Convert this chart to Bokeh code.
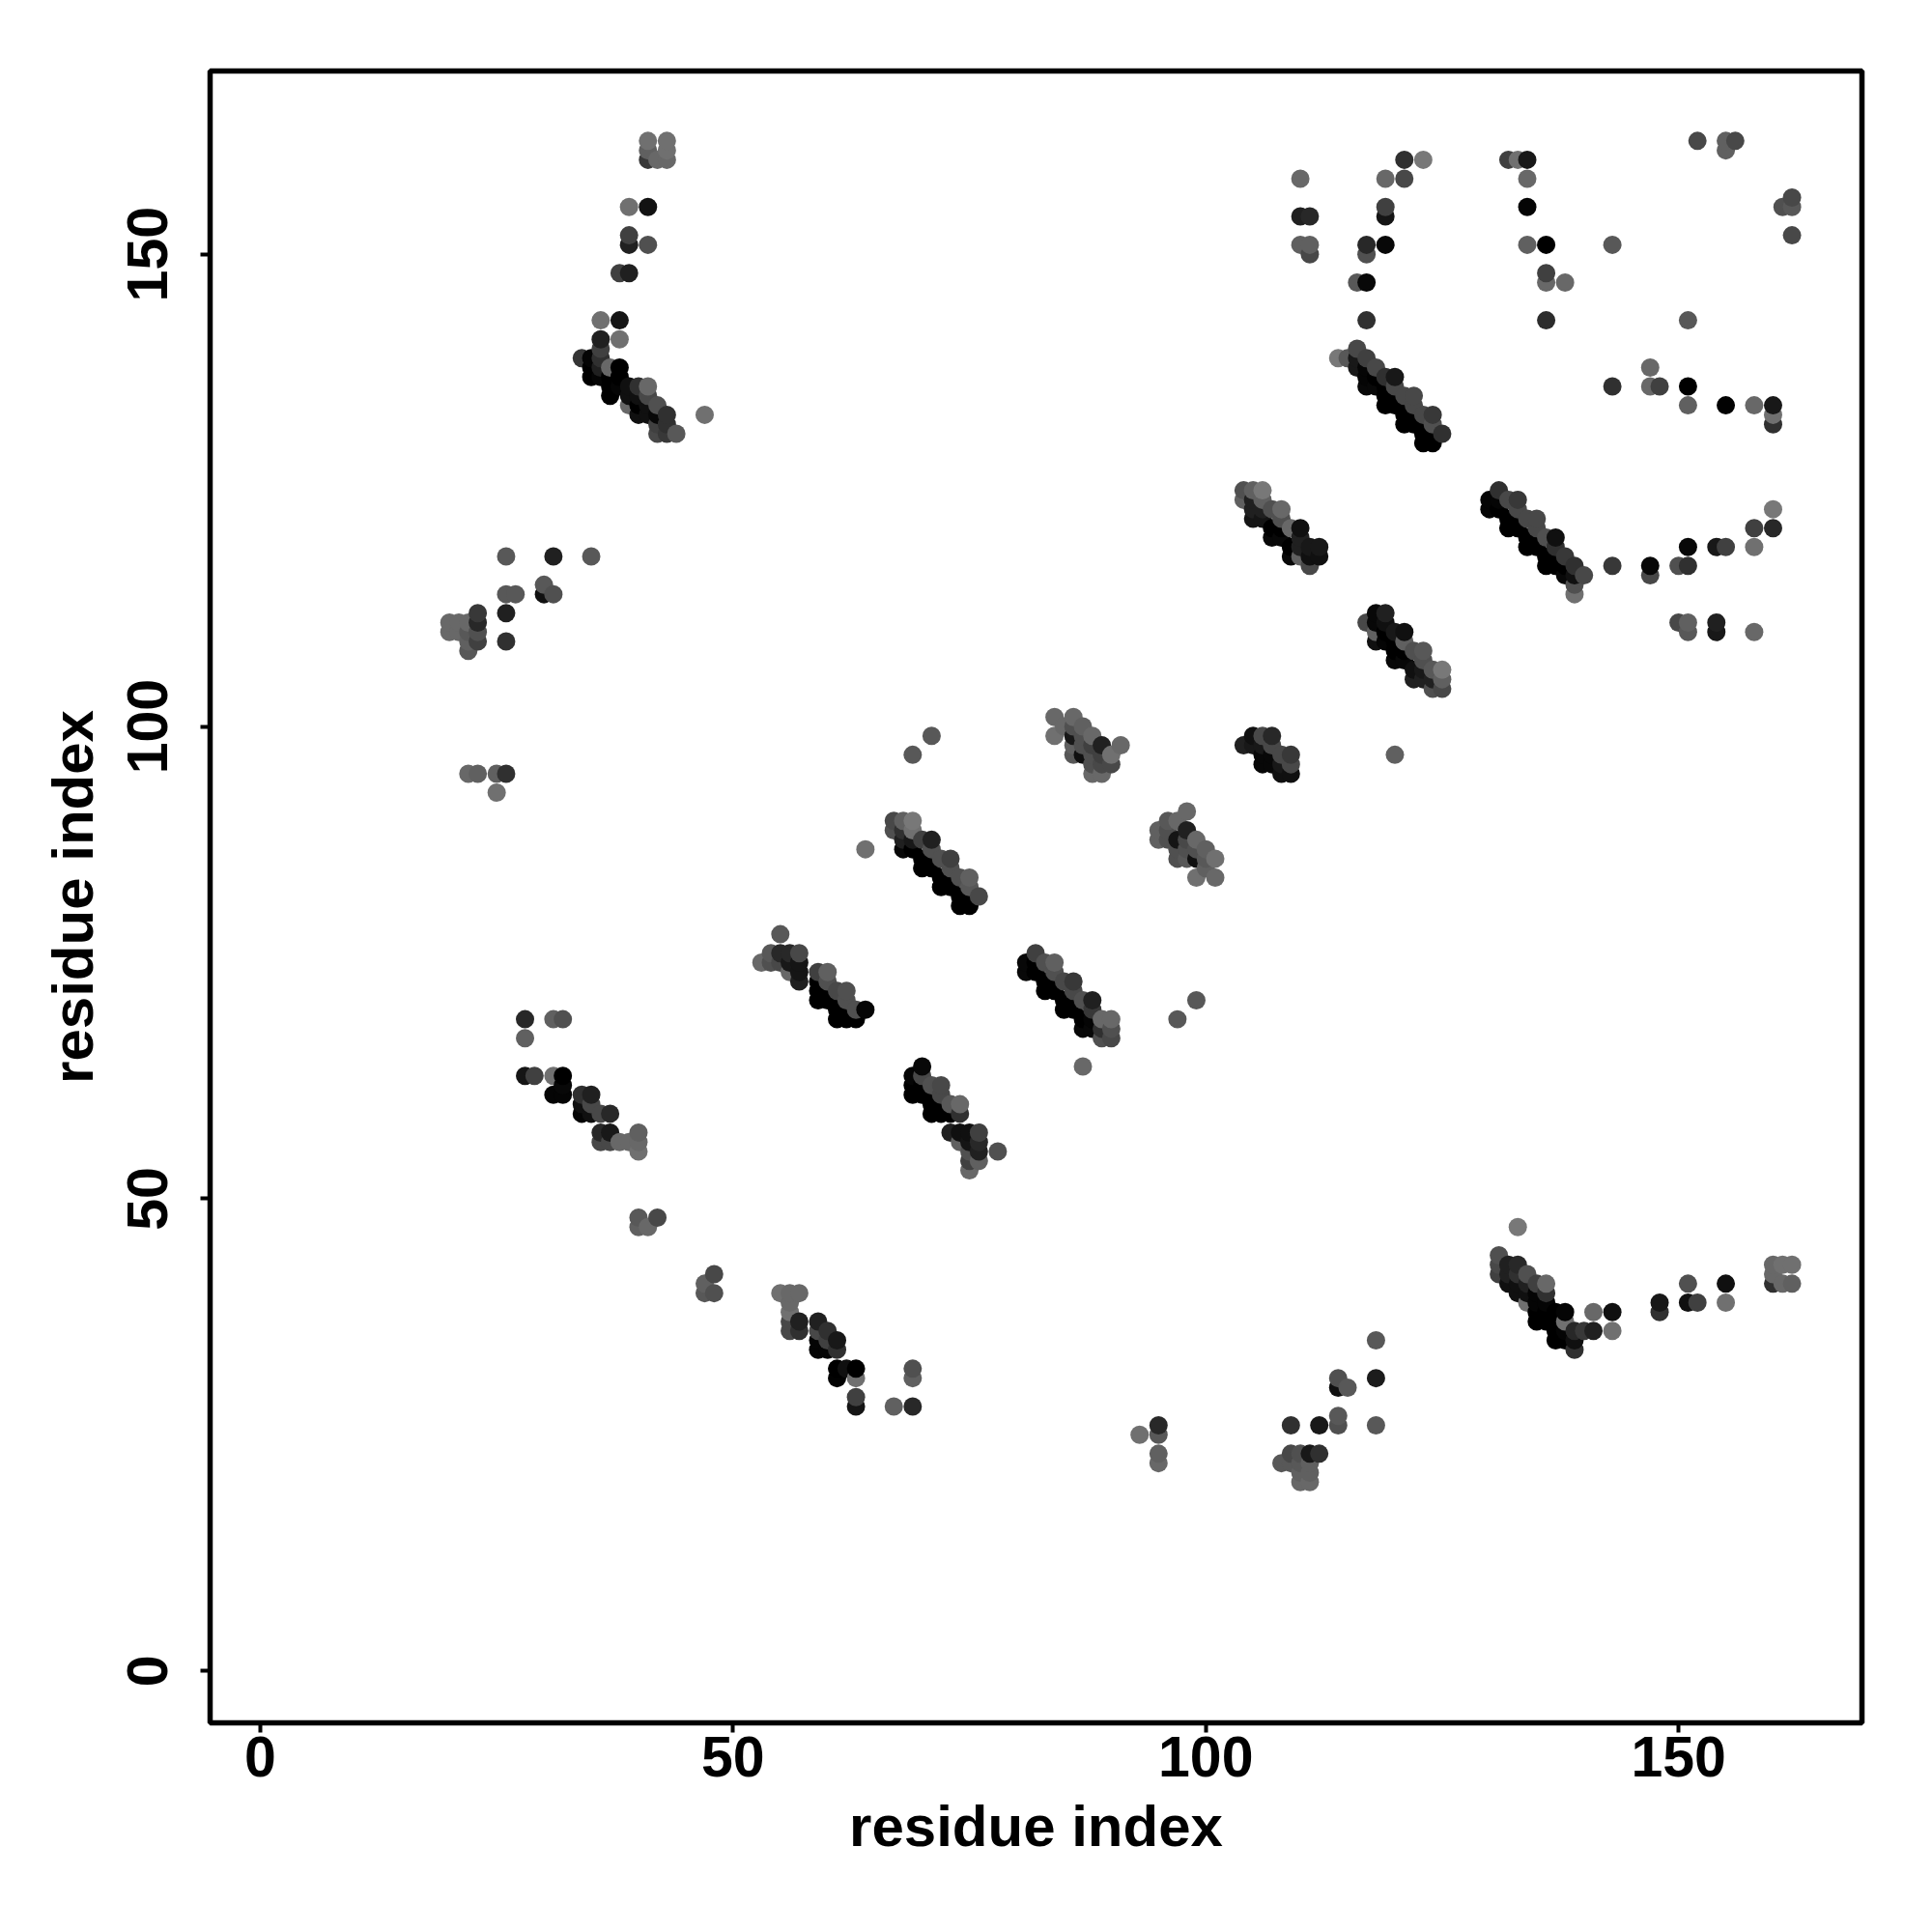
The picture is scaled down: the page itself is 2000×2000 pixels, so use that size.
from bokeh.plotting import figure
from bokeh.models import ColumnDataSource, FixedTicker, Range1d
from bokeh.embed import file_html
from bokeh.resources import INLINE

# contact lists: (residue i, residue j, darkness level 0=black .. 120=light)
arm_top_left = [(41,162,0x70),(43,162,0x70),(41,161,0x60),(43,161,0x70),(41,160,0x38),(42,160,0x68),(43,160,0x68),
 (39,155,0x70),(41,155,0x12),(39,152,0x40),(39,151,0x20),(41,151,0x50),(38,148,0x40),(39,148,0x20),
 (36,143,0x70),(38,143,0x15),(36,141,0x20),(38,141,0x70),(36,140,0x40)]
strip_34_44 = [(34,139,0x35),(35,139,0x05),(35,138,0x00),(35,137,0x00),(36,139,0x30),(36,138,0x20),(36,137,0x05),
 (37,138,0x68),(37,137,0x00),(37,136,0x00),(37,135,0x00),(38,138,0x00),(38,137,0x00),(38,136,0x05),
 (39,136,0x10),(39,135,0x10),(39,134,0x68),(40,136,0x30),(40,135,0x10),(40,134,0x00),(40,133,0x10),
 (41,136,0x68),(41,135,0x48),(41,134,0x10),(41,133,0x10),(42,134,0x50),(42,133,0x08),(42,132,0x40),(42,131,0x48),
 (43,133,0x30),(43,132,0x30),(43,131,0x38),(44,131,0x58),(47,133,0x70)]
arm_top_right = [(123,160,0x78),(121,160,0x30),(119,158,0x68),(121,158,0x48),(110,158,0x68),(132,160,0x40),(133,160,0x70),
 (134,160,0x18),(134,158,0x68),(134,155,0x05),(119,155,0x40),(119,154,0x15),(110,154,0x20),(111,154,0x28),
 (110,151,0x60),(111,151,0x60),(111,150,0x48),(117,151,0x28),(117,150,0x50),(119,151,0x08),(134,151,0x60),
 (136,151,0x00),(143,151,0x58),(136,148,0x40),(136,147,0x68),(138,147,0x68),(116,147,0x58),(117,147,0x08),
 (117,143,0x30),(136,143,0x2c),(143,136,0x30)]
strip_114_125 = [(114,139,0x78),(115,139,0x58),(116,140,0x48),(116,139,0x18),(116,138,0x18),(117,139,0x40),(117,138,0x05),(117,137,0x05),(117,136,0x08),
 (118,138,0x48),(118,137,0x00),(118,136,0x08),(119,137,0x30),(119,136,0x00),(119,135,0x00),(119,134,0x00),
 (120,137,0x18),(120,136,0x48),(120,135,0x00),(120,134,0x00),(121,135,0x48),(121,134,0x00),(121,133,0x00),(121,132,0x00),
 (122,135,0x48),(122,134,0x48),(122,133,0x00),(122,132,0x00),(123,133,0x48),(123,132,0x00),(123,131,0x00),(123,130,0x00),
 (124,133,0x38),(124,132,0x50),(124,131,0x00),(124,130,0x00),(125,131,0x30)]
far_top_right = [(152,162,0x48),(155,162,0x60),(156,162,0x48),(155,161,0x60),(162,156,0x48),(161,155,0x50),(162,155,0x58),
 (162,152,0x48),(151,143,0x58),(147,138,0x68),(147,136,0x68),(148,136,0x40),(151,136,0x00),(151,134,0x60),
 (155,134,0x02),(158,134,0x68),(160,134,0x18),(160,133,0x70),(160,132,0x30)]
block_104_112 = [(104,125,0x50),(105,125,0x60),(106,125,0x78),(104,124,0x60),(105,124,0x20),(105,123,0x20),(105,122,0x15),
 (106,124,0x60),(106,123,0x20),(106,122,0x15),(107,123,0x50),(107,121,0x00),(107,120,0x08),(108,123,0x68),(108,122,0x50),
 (108,121,0x00),(108,120,0x08),(109,121,0x68),(109,119,0x00),(109,118,0x08),(110,121,0x10),(110,120,0x20),(110,119,0x20),
 (110,118,0x60),(111,119,0x18),(111,118,0x10),(111,117,0x48),(112,119,0x18),(112,118,0x10)]
block_117_125 = [(117,111,0x48),(118,112,0x08),(118,111,0x08),(118,110,0x60),(118,109,0x10),(119,112,0x20),(119,111,0x10),(119,110,0x00),(119,109,0x05),
 (120,110,0x18),(120,109,0x00),(120,108,0x00),(120,107,0x08),(121,110,0x10),(121,109,0x60),(121,108,0x00),(121,107,0x08),
 (122,108,0x50),(122,106,0x10),(122,105,0x20),(123,108,0x58),(123,107,0x50),(123,106,0x18),(123,105,0x20),
 (124,106,0x58),(124,105,0x20),(124,104,0x50),(125,106,0x78),(125,105,0x60),(125,104,0x48),(120,97,0x60)]
block_104_109 = [(104,98,0x20),(105,99,0x10),(105,98,0x18),(106,99,0x48),(106,98,0x18),(106,97,0x08),(106,96,0x08),
 (107,99,0x28),(107,98,0x48),(107,97,0x08),(107,96,0x08),(108,97,0x48),(108,96,0x18),(108,95,0x10),(109,97,0x38),(109,96,0x48),(109,95,0x10)]
strip_130_140 = [(130,124,0x05),(130,123,0x05),(131,125,0x30),(131,124,0x05),(131,123,0x00),(132,124,0x48),(132,122,0x00),(132,121,0x00),
 (133,124,0x38),(133,123,0x48),(133,122,0x00),(133,121,0x00),(134,122,0x48),(134,120,0x00),(134,119,0x00),
 (135,122,0x48),(135,121,0x48),(135,120,0x00),(135,119,0x00),(136,120,0x50),(136,118,0x00),(136,117,0x00),
 (137,120,0x10),(137,119,0x30),(137,118,0x00),(137,117,0x00),(138,118,0x38),(138,117,0x00),(138,116,0x08),
 (139,117,0x30),(139,116,0x10),(139,115,0x50),(139,114,0x70),(140,116,0x48)]
tail_143_160 = [(143,117,0x38),(147,117,0x08),(147,116,0x48),(150,117,0x50),(151,117,0x30),(151,119,0x08),(154,119,0x18),(155,119,0x40),
 (158,119,0x70),(158,121,0x40),(160,121,0x28),(160,123,0x78),(150,111,0x48),(151,111,0x60),(151,110,0x58),
 (154,111,0x20),(154,110,0x18),(158,110,0x68)]
left_group = [(26,118,0x58),(31,118,0x20),(35,118,0x58),(26,114,0x58),(27,114,0x58),(30,115,0x58),(30,114,0x10),(31,114,0x50),
 (26,112,0x20),(23,112,0x38),(23,111,0x28),(23,110,0x50),(23,109,0x40),(26,109,0x30),(20,111,0x68),(21,111,0x68),
 (22,111,0x68),(20,110,0x68),(21,110,0x68),(22,110,0x58),(22,109,0x60),(22,108,0x58),(22,95,0x68),(23,95,0x60),
 (25,95,0x60),(26,95,0x30),(25,93,0x70)]
strip_67_76 = [(71,99,0x58),(69,97,0x58),(64,87,0x70),(67,90,0x48),(68,90,0x60),(69,90,0x78),(67,89,0x50),(69,89,0x70),(68,89,0x30),
 (68,88,0x20),(68,87,0x08),(69,88,0x18),(69,87,0x00),(70,88,0x40),(70,86,0x00),(70,85,0x00),(71,88,0x20),(71,87,0x50),(71,86,0x00),(71,85,0x00),
 (72,86,0x50),(72,84,0x00),(72,83,0x00),(73,86,0x40),(73,85,0x50),(73,84,0x00),(73,83,0x00),(74,84,0x50),(74,82,0x00),(74,81,0x00),
 (75,84,0x60),(75,83,0x58),(75,82,0x00),(75,81,0x00),(76,82,0x48)]
block_84_91 = [(84,101,0x68),(84,99,0x70),(85,100,0x68),(86,101,0x68),(86,100,0x50),(86,99,0x18),(86,98,0x60),(86,97,0x58),
 (87,100,0x60),(87,99,0x50),(87,98,0x50),(87,97,0x10),(88,99,0x68),(88,98,0x40),(88,97,0x50),(88,96,0x50),(88,95,0x68),
 (89,98,0x20),(89,97,0x40),(89,96,0x48),(89,95,0x68),(90,97,0x70),(90,96,0x48),(91,98,0x68)]
strip_81_90 = [(82,76,0x40),(81,75,0x08),(81,74,0x08),(82,75,0x00),(82,74,0x00),(83,75,0x50),(83,73,0x00),(83,72,0x00),
 (84,75,0x60),(84,74,0x50),(84,73,0x00),(84,72,0x00),(85,73,0x48),(85,71,0x00),(85,70,0x00),(86,73,0x38),(86,72,0x48),(86,71,0x00),(86,70,0x00),
 (87,71,0x50),(87,69,0x00),(87,68,0x08),(88,71,0x20),(88,70,0x38),(88,69,0x05),(88,68,0x08),(89,69,0x68),(89,68,0x30),(89,67,0x50),
 (90,69,0x68),(90,68,0x50),(90,67,0x48),(87,64,0x68),(99,71,0x58),(97,69,0x58)]
block_95_101 = [(98,91,0x68),(96,90,0x58),(97,90,0x68),(95,89,0x60),(95,88,0x60),(96,89,0x50),(96,88,0x50),(98,89,0x20),
 (99,88,0x68),(97,88,0x15),(98,88,0x48),(100,87,0x60),(99,87,0x50),(101,86,0x70),(100,86,0x58),(97,86,0x50),
 (98,86,0x58),(99,86,0x10),(99,84,0x70),(101,84,0x68),(97,87,0x50),(98,87,0x50),(100,85,0x60)]
strip_53_64 = [(55,78,0x58),(53,75,0x68),(54,76,0x58),(55,76,0x28),(56,76,0x28),(57,76,0x48),(54,75,0x50),(55,75,0x48),
 (56,75,0x18),(57,75,0x15),(57,74,0x15),(57,73,0x20),(56,74,0x68),(59,74,0x40),(60,74,0x60),(60,73,0x50),
 (61,72,0x48),(62,72,0x50),(62,71,0x50),(63,70,0x50),(64,70,0x05),(59,73,0x00),(59,72,0x00),(59,71,0x00),
 (60,72,0x00),(60,71,0x00),(61,71,0x00),(61,70,0x00),(61,69,0x00),(62,70,0x00),(62,69,0x00),(63,69,0x00)]
strip_69_78 = [(70,64,0x08),(69,63,0x05),(69,62,0x00),(69,61,0x00),(70,63,0x48),(70,62,0x00),(70,61,0x00),(71,62,0x50),(71,61,0x00),(71,60,0x00),(71,59,0x00),
 (72,62,0x48),(72,61,0x48),(72,60,0x00),(72,59,0x00),(73,60,0x58),(73,59,0x00),(74,60,0x68),(74,59,0x30),
 (73,57,0x20),(74,57,0x10),(75,57,0x10),(76,57,0x40),(74,56,0x60),(75,56,0x15),(76,56,0x28),(76,55,0x20),
 (75,55,0x50),(75,54,0x40),(76,54,0x60),(75,53,0x68),(78,55,0x50)]
lower_left = [(28,69,0x28),(31,69,0x60),(32,69,0x50),(28,67,0x60),(28,63,0x15),(29,63,0x40),(31,63,0x70),(32,63,0x00),
 (32,62,0x08),(31,61,0x05),(32,61,0x05),(34,61,0x30),(35,61,0x20),(34,60,0x10),(35,60,0x48),(34,59,0x05),
 (35,59,0x10),(36,59,0x48),(37,59,0x28),(36,57,0x28),(37,57,0x18),(36,56,0x48),(37,56,0x48),(38,56,0x68),
 (39,56,0x68),(40,57,0x60),(40,56,0x68),(40,55,0x70),(40,48,0x58),(42,48,0x48),(40,47,0x60),(41,47,0x68),
 (48,42,0x48),(47,41,0x60),(47,40,0x58),(48,40,0x50)]
lower_mid = [(55,40,0x70),(56,40,0x68),(57,40,0x68),(56,39,0x68),(56,38,0x70),(56,37,0x48),(57,37,0x20),(56,36,0x48),
 (57,36,0x30),(59,37,0x20),(59,36,0x48),(60,35,0x40),(61,35,0x18),(61,34,0x30),(59,34,0x05),(60,34,0x05),(60,36,0x30),
 (59,35,0x05),(61,32,0x00),(62,32,0x10),(63,32,0x00),(61,31,0x02),(63,31,0x70),(63,29,0x40),(63,28,0x15),
 (67,28,0x60),(69,28,0x28),(69,32,0x50),(69,31,0x60)]
bottom_group = [(118,35,0x58),(118,31,0x1c),(114,31,0x50),(115,30,0x58),(114,30,0x10),(114,27,0x58),(114,26,0x50),(118,26,0x58),
 (112,26,0x18),(109,26,0x30),(95,26,0x28),(95,25,0x58),(93,25,0x70),(95,23,0x60),(95,22,0x68),(108,22,0x58),
 (109,23,0x48),(110,23,0x50),(111,23,0x18),(112,23,0x30),(109,22,0x58),(110,22,0x58),(111,22,0x60),(110,21,0x60),
 (111,21,0x60),(110,20,0x68),(111,20,0x68)]
strip_131_141 = [(133,47,0x78),(131,44,0x50),(131,43,0x48),(131,42,0x40),(132,43,0x20),(132,42,0x20),(132,41,0x10),(133,43,0x28),(134,42,0x50),(133,42,0x30),
 (135,41,0x40),(136,41,0x68),(136,40,0x30),(134,41,0x20),(133,40,0x10),(133,41,0x10),(134,40,0x10),(134,39,0x70),
 (135,40,0x05),(135,39,0x05),(136,39,0x05),(135,37,0x00),(135,38,0x00),(136,37,0x00),(136,38,0x00),(137,38,0x00),(138,38,0x05),(138,37,0x70),
 (137,37,0x00),(137,35,0x00),(138,35,0x00),(137,36,0x00),(138,36,0x05),(139,36,0x28),(140,36,0x38),(141,36,0x20),
 (139,35,0x10),(139,34,0x30),(141,38,0x68),(143,38,0x10),(143,36,0x70)]
tail_148_162 = [(148,39,0x18),(148,38,0x30),(151,41,0x50),(151,39,0x10),(152,39,0x40),(155,41,0x10),(155,39,0x70),
 (160,43,0x68),(161,43,0x70),(162,43,0x70),(160,42,0x68),(160,41,0x30),(161,41,0x68),(162,41,0x60)]

tick_values = [0, 50, 100, 150]
axis_title = "residue index"

clusters = [arm_top_left, strip_34_44, arm_top_right, strip_114_125, far_top_right, block_104_112, block_117_125,
            block_104_109, strip_130_140, tail_143_160, left_group, strip_67_76, block_84_91, strip_81_90,
            block_95_101, strip_53_64, strip_69_78, lower_left, lower_mid, bottom_group, strip_131_141, tail_148_162]

points = {}
for c in clusters:
    for x, y, s in c:
        points[(x, y)] = s
# drawn in ascending residue order, so later residues sit on top
keys = sorted(points)
src = ColumnDataSource(dict(
    x=[k[0] for k in keys], y=[k[1] for k in keys],
    color=["#%02x%02x%02x" % (points[k], points[k], points[k]) for k in keys]))

FONT = "Liberation Sans"
p = figure(width=1984, height=1960, output_backend="svg", toolbar_location=None,
           x_range=Range1d(-5.31, 169.4), y_range=Range1d(-5.5, 169.4),
           frame_width=1710, frame_height=1710,
           min_border_left=217, min_border_top=73, min_border_right=40, min_border_bottom=100)
p.scatter("x", "y", source=src, size=19, marker="circle", fill_color="color", line_color=None)

p.grid.visible = False
p.outline_line_color = "black"
p.outline_line_width = 5.5
p.background_fill_color = "white"

for ax in (p.xaxis[0], p.yaxis[0]):
    ax.ticker = FixedTicker(ticks=tick_values)
    ax.minor_tick_line_color = None
    ax.major_tick_in = 0
    ax.major_tick_out = 10
    ax.major_tick_line_width = 4
    ax.major_tick_line_color = "black"
    ax.axis_line_color = None
    ax.major_label_text_font = FONT
    ax.major_label_text_font_style = "bold"
    ax.major_label_text_font_size = "59px"
    ax.major_label_text_color = "black"
    ax.axis_label = axis_title
    ax.axis_label_text_font = FONT
    ax.axis_label_text_font_style = "bold"
    ax.axis_label_text_font_size = "60px"
    ax.axis_label_text_color = "black"
    ax.major_label_standoff = 4
    ax.axis_label_standoff = 15
p.yaxis[0].major_label_orientation = "parallel"
p.yaxis[0].major_label_standoff = 34
p.yaxis[0].axis_label_standoff = 21

open("out.html", "w").write(file_html(p, INLINE))
